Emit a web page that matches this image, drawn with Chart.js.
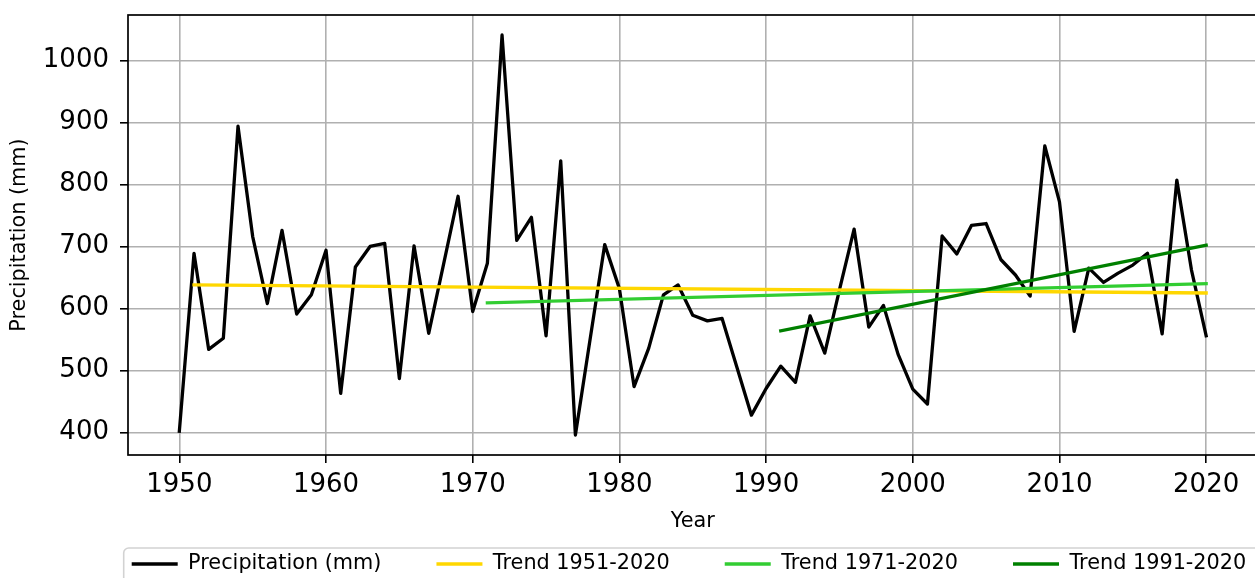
<!DOCTYPE html>
<html>
<head>
<meta charset="utf-8">
<title>Annual precipitation with trends</title>
<script src="https://cdn.jsdelivr.net/npm/chart.js@4/dist/chart.umd.min.js"></script>
<style>
  html, body { margin: 0; padding: 0; background: #fff; overflow: hidden; }
  #wrap { width: 1255px; height: 578px; overflow: hidden; position: relative; }
  canvas { display: block; }
</style>
</head>
<body>
<div id="wrap"><canvas id="chart" width="1378" height="578"></canvas></div>
<script>
// Annual precipitation totals (mm)
const years = [
  1950, 1951, 1952, 1953, 1954, 1955, 1956, 1957, 1958, 1959,
  1960, 1961, 1962, 1963, 1964, 1965, 1966, 1967, 1968, 1969,
  1970, 1971, 1972, 1973, 1974, 1975, 1976, 1977, 1978, 1979,
  1980, 1981, 1982, 1983, 1984, 1985, 1986, 1987, 1988, 1989,
  1990, 1991, 1992, 1993, 1994, 1995, 1996, 1997, 1998, 1999,
  2000, 2001, 2002, 2003, 2004, 2005, 2006, 2007, 2008, 2009,
  2010, 2011, 2012, 2013, 2014, 2015, 2016, 2017, 2018, 2019,
  2020
];
const precipitation = [
  402, 689, 534, 552, 894, 716, 608, 726, 591, 622,
  694, 463, 667, 700, 705, 487, 701, 560, 670, 781,
  595, 673, 1041, 710, 747, 556, 838, 396, 550, 703,
  632, 474, 536, 622, 638, 589, 580, 584, 506, 428,
  471, 507, 481, 588, 528, 630, 728, 570, 605, 526,
  470, 446, 717, 688, 734, 737, 679, 654, 620, 862,
  772, 563, 665, 642, 657, 670, 689, 559, 807, 662,
  556
];

// Linear trend lines (start and end of each period)
const trend1951Years = [1951, 2020];
const trend1951Values = [638, 625];
const trend1971Years = [1971, 2020];
const trend1971Values = [609, 640];
const trend1991Years = [1991, 2020];
const trend1991Values = [564, 702];

// Axis ticks
const xTickValues = [1950, 1960, 1970, 1980, 1990, 2000, 2010, 2020];
const yTickValues = [400, 500, 600, 700, 800, 900, 1000];

const toPoints = (xs, ys) => xs.map((x, i) => ({ x: x, y: ys[i] }));

Chart.defaults.font.family = "'DejaVu Sans', sans-serif";
Chart.defaults.color = '#000';

const GRID = '#b0b0b0';

// Full box around the plotting area, drawn above the lines
const plotFrame = {
  id: 'plotFrame',
  afterDatasetsDraw(chart) {
    const { left, top, right, bottom } = chart.chartArea;
    const ctx = chart.ctx;
    ctx.save();
    ctx.strokeStyle = '#000';
    ctx.lineWidth = 1.7;
    ctx.strokeRect(left, top, right - left, bottom - top);
    ctx.restore();
  }
};

// Rounded frame around the legend row
const legendFrame = {
  id: 'legendFrame',
  afterDraw(chart) {
    const boxes = chart.legend && chart.legend.legendHitBoxes;
    if (!boxes || !boxes.length) return;
    const b = boxes[0];
    const ctx = chart.ctx;
    const left = b.left - 8;
    const top = b.top + b.height / 2 - 16;
    ctx.save();
    ctx.strokeStyle = '#d2d2d2';
    ctx.lineWidth = 1.6;
    ctx.beginPath();
    ctx.roundRect(left, top, chart.width - left + 20, chart.height - top + 20, 5);
    ctx.stroke();
    ctx.restore();
  }
};

const lineStyle = (color) => ({
  borderColor: color,
  backgroundColor: color,
  borderWidth: 3.3,
  pointRadius: 0,
  pointHoverRadius: 0,
  tension: 0,
  fill: false,
  borderJoinStyle: 'round',
  borderCapStyle: 'square'
});

new Chart(document.getElementById('chart'), {
  type: 'line',
  data: {
    datasets: [
      Object.assign({ label: 'Precipitation (mm)', data: toPoints(years, precipitation), order: 4 }, lineStyle('#000000')),
      Object.assign({ label: 'Trend 1951-2020', data: toPoints(trend1951Years, trend1951Values), order: 3 }, lineStyle('#FFD700')),
      Object.assign({ label: 'Trend 1971-2020', data: toPoints(trend1971Years, trend1971Values), order: 2 }, lineStyle('#32CD32')),
      Object.assign({ label: 'Trend 1991-2020', data: toPoints(trend1991Years, trend1991Values), order: 1 }, lineStyle('#008000'))
    ]
  },
  options: {
    responsive: false,
    animation: false,
    devicePixelRatio: 1,
    events: [],
    layout: {
      autoPadding: false,
      padding: { top: 15, left: 0, right: 0, bottom: 0 }
    },
    scales: {
      x: {
        type: 'linear',
        min: 1946.5,
        max: 2023.5,
        afterBuildTicks: (s) => { s.ticks = xTickValues.map(v => ({ value: v })); },
        ticks: {
          callback: (v) => String(v),
          font: { size: 26 },
          padding: 7,
          maxRotation: 0,
          autoSkip: false,
          color: '#000'
        },
        grid: { color: GRID, lineWidth: 1.6, tickColor: '#000', tickLength: 8, tickWidth: 1.6 },
        border: { display: false },
        title: {
          display: true,
          text: 'Year',
          color: '#000',
          font: { size: 20.8 },
          padding: { top: 0, bottom: -35 }
        },
        afterFit: (s) => { s.height = 43.6; s.paddingLeft = 0; s.paddingRight = 120.5; }
      },
      y: {
        type: 'linear',
        min: 363.75,
        max: 1073.25,
        afterBuildTicks: (s) => { s.ticks = yTickValues.map(v => ({ value: v })); },
        ticks: {
          callback: (v) => String(v),
          font: { size: 26 },
          padding: 11,
          color: '#000'
        },
        grid: { color: GRID, lineWidth: 1.6, tickColor: '#000', tickLength: 8, tickWidth: 1.6 },
        border: { display: false },
        title: {
          display: true,
          text: 'Precipitation (mm)',
          color: '#000',
          font: { size: 20.8 },
          padding: { top: 7.5, bottom: 0 }
        },
        afterFit: (s) => { s.width = 128; s.paddingTop = 0; s.paddingBottom = 0; }
      }
    },
    plugins: {
      tooltip: { enabled: false },
      legend: {
        position: 'bottom',
        align: 'center',
        maxHeight: 79.4,
        labels: {
          font: { size: 20.8 },
          color: '#000',
          boxWidth: 46,
          boxHeight: 3.5,
          padding: 55,
          sort: (a, b) => a.datasetIndex - b.datasetIndex,
          generateLabels: (chart) =>
            Chart.defaults.plugins.legend.labels.generateLabels(chart).map(l =>
              Object.assign({}, l, { fillStyle: l.strokeStyle, lineWidth: 0 }))
        }
      }
    }
  },
  plugins: [plotFrame, legendFrame]
});
</script>
</body>
</html>
